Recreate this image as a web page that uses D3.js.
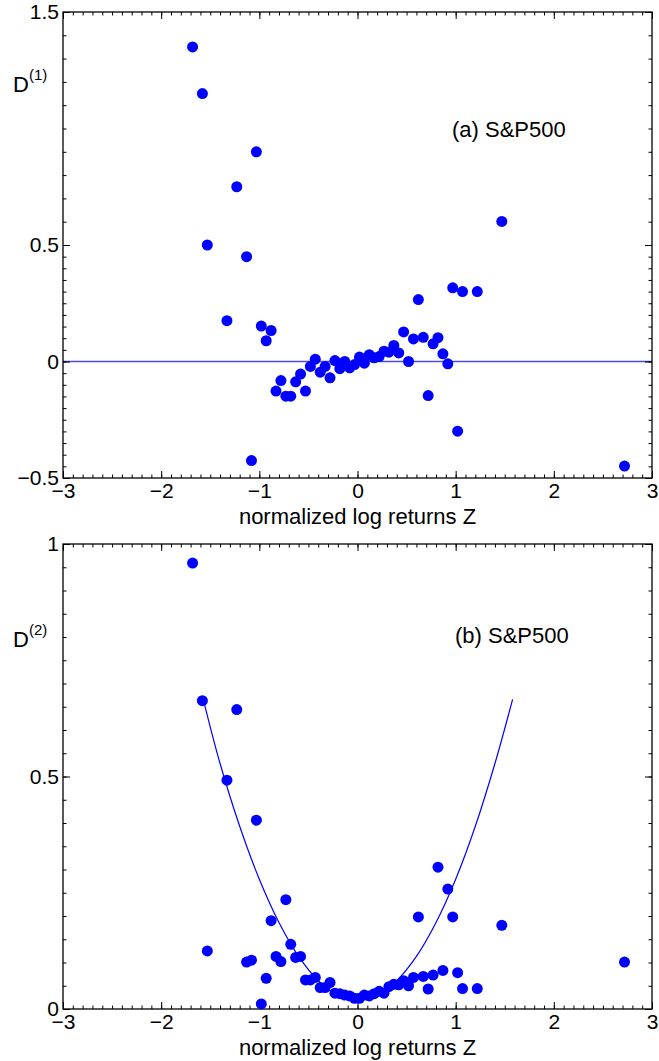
<!DOCTYPE html>
<html>
<head>
<meta charset="utf-8">
<script src="https://cdn.jsdelivr.net/npm/d3@7/dist/d3.min.js"></script>
<style>
  html, body { margin: 0; padding: 0; background: #fff; }
  svg text { font-family: "Liberation Sans", Arial, Helvetica, sans-serif; fill: #000; }
</style>
</head>
<body>
<svg id="chart" width="659" height="1061"></svg>
<script>
// ---- data ----
const zBins = [-1.68, -1.58, -1.53, -1.33, -1.23, -1.13, -1.08, -1.03, -0.98, -0.93,
  -0.88, -0.83, -0.78, -0.73, -0.68, -0.63, -0.58, -0.53, -0.48, -0.43,
  -0.38, -0.33, -0.28, -0.23, -0.18, -0.13, -0.08, -0.03, 0.02, 0.07,
  0.12, 0.17, 0.22, 0.27, 0.32, 0.37, 0.42, 0.47, 0.52, 0.57,
  0.62, 0.67, 0.72, 0.77, 0.82, 0.87, 0.92, 0.97, 1.02, 1.07,
  1.22, 1.47, 2.72];

const drift = [1.35, 1.15, 0.50, 0.175, 0.75, 0.45, -0.425, 0.90, 0.152, 0.089,
  0.133, -0.127, -0.082, -0.149, -0.149, -0.087, -0.054, -0.127, -0.021, 0.010,
  -0.046, -0.021, -0.070, 0.004, -0.031, 0.000, -0.027, -0.013, 0.019, -0.007,
  0.029, 0.016, 0.021, 0.044, 0.040, 0.069, 0.037, 0.127, 0.000, 0.097,
  0.266, 0.104, -0.146, 0.076, 0.102, 0.033, -0.010, 0.316, -0.299, 0.300,
  0.300, 0.601, -0.449];

const diffusion = [0.959, 0.663, 0.125, 0.492, 0.644, 0.101, 0.105, 0.406, 0.011, 0.066,
  0.190, 0.113, 0.102, 0.235, 0.139, 0.111, 0.113, 0.0625, 0.0625, 0.068,
  0.046, 0.046, 0.057, 0.034, 0.033, 0.030, 0.028, 0.023, 0.023, 0.030,
  0.028, 0.033, 0.038, 0.034, 0.048, 0.053, 0.052, 0.061, 0.050, 0.068,
  0.198, 0.070, 0.043, 0.073, 0.305, 0.083, 0.258, 0.198, 0.078, 0.044,
  0.044, 0.180, 0.101];

// fitted curve in panel (b)
const fitZ = [-1.57, -1.4, -1.2, -1.0, -0.8, -0.6, -0.4, -0.2, 0, 0.2, 0.4, 0.6, 0.8, 1.0, 1.2, 1.4, 1.58];
const fitD = [0.665, 0.528, 0.393, 0.279, 0.186, 0.113, 0.061, 0.030, 0.020, 0.030, 0.061, 0.113, 0.186, 0.279, 0.393, 0.528, 0.666];

const xTicks = [-3, -2, -1, 0, 1, 2, 3];
const yTicksA = [-0.5, 0, 0.5, 1.5];
const yTicksB = [0, 0.5, 1];
const xLabel = "normalized log returns Z";

// ---- layout ----
const svg = d3.select("#chart");
const X0 = 63, X1 = 652;
const x = d3.scaleLinear().domain([-3, 3]).range([X0, X1]);
const yA = d3.scaleLinear().domain([-0.5, 1.5]).range([478, 12]);
const yB = d3.scaleLinear().domain([0, 1]).range([1009, 544]);
const FS = 21;
const fmt = d3.format("");

const xMinor = d3.range(-30, 31).map(d => d / 10);
const yMinorA = d3.range(-10, 10).map(d => d / 20).concat(d3.range(5, 16).map(d => d / 10));
const yMinorB = d3.range(0, 21).map(d => d / 20);

function panel(y, yMajor, yMinor) {
  const [yb, yt] = y.range();
  const g = svg.append("g");
  const majL = 7, minL = 3.5;
  // bottom
  const gb = g.append("g").attr("transform", `translate(0,${yb})`);
  gb.call(d3.axisBottom(x).tickValues(xMinor).tickSize(-minL).tickFormat(""));
  gb.append("g").call(d3.axisBottom(x).tickValues(xTicks).tickSizeInner(-majL).tickSizeOuter(0).tickPadding(5).tickFormat(fmt));
  // top
  const gt = g.append("g").attr("transform", `translate(0,${yt})`);
  gt.call(d3.axisTop(x).tickValues(xMinor).tickSize(-minL).tickFormat(""));
  gt.append("g").call(d3.axisTop(x).tickValues(xTicks).tickSizeInner(-majL).tickSizeOuter(0).tickFormat(""));
  // left
  const gl = g.append("g").attr("transform", `translate(${X0},0)`);
  gl.call(d3.axisLeft(y).tickValues(yMinor).tickSize(-minL).tickFormat(""));
  gl.append("g").call(d3.axisLeft(y).tickValues(yMajor).tickSizeInner(-majL).tickSizeOuter(0).tickPadding(4).tickFormat(fmt));
  // right
  const gr = g.append("g").attr("transform", `translate(${X1},0)`);
  gr.call(d3.axisRight(y).tickValues(yMinor).tickSize(-minL).tickFormat(""));
  gr.append("g").call(d3.axisRight(y).tickValues(yMajor).tickSizeInner(-majL).tickSizeOuter(0).tickFormat(""));

  g.selectAll(".domain").remove();
  g.selectAll(".tick line").attr("stroke", "#000").attr("stroke-width", 1);
  g.selectAll(".tick text").attr("font-size", FS).attr("fill", "#000")
    .attr("font-family", '"Liberation Sans", Arial, sans-serif');
  // frame
  g.append("rect").attr("x", X0).attr("y", yt).attr("width", X1 - X0).attr("height", yb - yt)
    .attr("fill", "none").attr("stroke", "#000").attr("stroke-width", 1.3);
  // x label
  g.append("text").attr("x", x(0)).attr("y", yb + 46).attr("text-anchor", "middle")
    .attr("font-size", 22).text(xLabel);
  return g;
}

// ---- panel (a) ----
const gA = panel(yA, yTicksA, yMinorA);
svg.insert("line", ":first-child")
  .attr("x1", x(-3)).attr("x2", x(3)).attr("y1", yA(0)).attr("y2", yA(0))
  .attr("stroke", "#4a4ae6").attr("stroke-width", 1.4);
svg.append("g").selectAll("circle").data(zBins).join("circle")
  .attr("cx", (d) => x(d)).attr("cy", (d, i) => yA(drift[i])).attr("r", 5.5).attr("fill", "#0000ff");
svg.append("text").attr("x", 452).attr("y", 137).attr("font-size", 22).text("(a) S&P500");
const la = svg.append("text").attr("x", 13).attr("y", 92).attr("font-size", 22);
la.append("tspan").text("D");
la.append("tspan").attr("font-size", 15).attr("dy", -12).text("(1)");

// ---- panel (b) ----
const gB = panel(yB, yTicksB, yMinorB);
const fitLine = d3.line().x((d, i) => x(fitZ[i])).y((d, i) => yB(fitD[i])).curve(d3.curveCatmullRom);
svg.append("path").datum(fitZ).attr("d", fitLine).attr("fill", "none")
  .attr("stroke", "#0000ff").attr("stroke-width", 1.2);
svg.append("g").selectAll("circle").data(zBins).join("circle")
  .attr("cx", (d) => x(d)).attr("cy", (d, i) => yB(diffusion[i])).attr("r", 5.5).attr("fill", "#0000ff");
svg.append("text").attr("x", 455).attr("y", 643).attr("font-size", 22).text("(b) S&P500");
const lb = svg.append("text").attr("x", 13).attr("y", 647).attr("font-size", 22);
lb.append("tspan").text("D");
lb.append("tspan").attr("font-size", 15).attr("dy", -12).text("(2)");
</script>
</body>
</html>
